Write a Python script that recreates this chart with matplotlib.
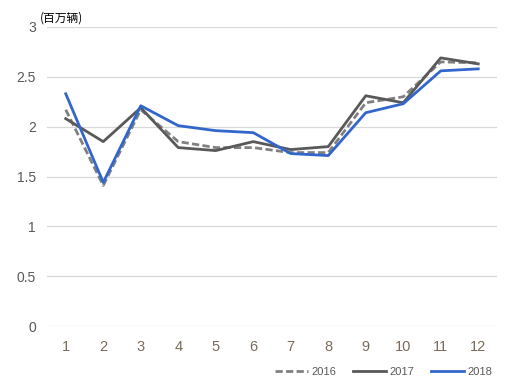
import matplotlib
matplotlib.use('Agg')
import matplotlib.pyplot as plt

plt.rcParams['font.family'] = ['Liberation Sans', 'Noto Sans CJK SC', 'DejaVu Sans']

months = ['1', '2', '3', '4', '5', '6', '7', '8', '9', '10', '11', '12']
y2016 = [2.17, 1.41, 2.17, 1.85, 1.79, 1.79, 1.74, 1.74, 2.24, 2.30, 2.65, 2.64]
y2017 = [2.08, 1.85, 2.19, 1.79, 1.76, 1.85, 1.77, 1.80, 2.31, 2.24, 2.69, 2.63]
y2018 = [2.33, 1.44, 2.21, 2.01, 1.96, 1.94, 1.73, 1.71, 2.14, 2.23, 2.56, 2.58]
yticks = [0, 0.5, 1, 1.5, 2, 2.5, 3]
ytick_labels = ['0', '0.5', '1', '1.5', '2', '2.5', '3']

fig = plt.figure(figsize=(5.17, 3.83), dpi=100)
ax = fig.add_axes([47 / 517, 1 - 326 / 383, 450 / 517, 299 / 383])

x = list(range(len(months)))
ax.plot(x, y2016, color='#808080', lw=2, ls=(0, (2.6, 1.2)), label='2016')
ax.plot(x, y2017, color='#595959', lw=2, label='2017')
ax.plot(x, y2018, color='#3366CC', lw=2, label='2018')

ax.set_xlim(-0.5, len(months) - 0.5)
ax.set_ylim(0, 3)
ax.set_xticks(x)
ax.set_xticklabels(months, fontsize=10.5, color='#7a6a5a')
ax.set_yticks(yticks)
ax.set_yticklabels(ytick_labels, fontsize=10, color='#595959')
ax.tick_params(length=0)
ax.tick_params(axis='x', pad=10)
ax.tick_params(axis='y', pad=8)
for s in ax.spines.values():
    s.set_visible(False)
ax.grid(axis='y', color='#d9d9d9', lw=0.9)
ax.set_axisbelow(True)

fig.text(40 / 517, 1 - 18 / 383, '(百万辆)', fontsize=8.5, color='#000000',
         va='center', ha='left', family=['Noto Sans CJK SC', 'DejaVu Sans'])

ax.legend(loc='lower right', bbox_to_anchor=(1.0, -0.185), ncol=3, frameon=False,
          fontsize=8, handlelength=3, columnspacing=1.5, handletextpad=0.3,
          labelcolor='#595959', borderaxespad=0)

fig.savefig('out.png', dpi=100)
